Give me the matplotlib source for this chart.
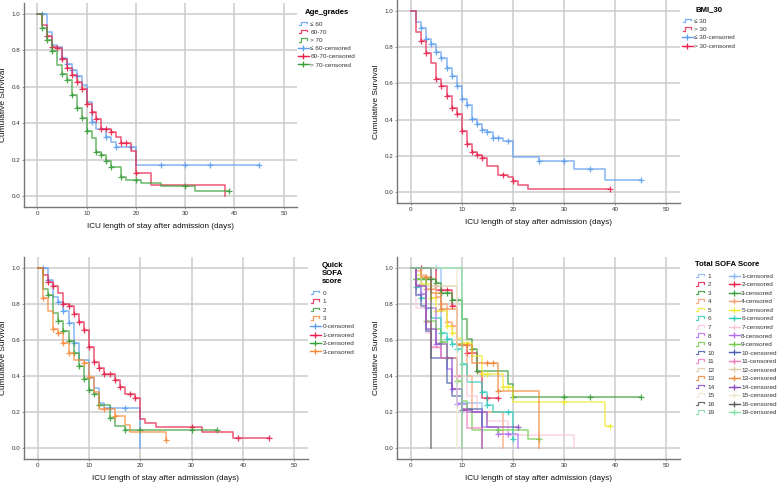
import numpy as np
import matplotlib
matplotlib.use("Agg")
import matplotlib.pyplot as plt
from matplotlib.lines import Line2D
from matplotlib.legend_handler import HandlerBase

plt.rcParams["font.family"] = ["Liberation Sans", "DejaVu Sans"]

# ---------------- data (event times, survival after event, censor times) ----------------
# Age_grades
age1_t = [2, 3, 4, 5, 6, 7, 8, 9, 10, 11, 12, 14, 15, 16, 20]
age1_s = [0.90, 0.83, 0.82, 0.76, 0.727, 0.69, 0.66, 0.61, 0.515, 0.405, 0.37, 0.325, 0.295, 0.27, 0.17]
age1_c = [1, 5, 6, 7, 8, 11, 14, 16, 19, 25, 30, 35, 45]
age2_t = [1, 2, 3, 4, 5, 6, 7, 8, 9, 10, 11, 12, 13, 15, 16, 17, 19, 20, 23, 38]
age2_s = [0.94, 0.88, 0.82, 0.815, 0.75, 0.705, 0.667, 0.625, 0.59, 0.505, 0.46, 0.425, 0.37, 0.35, 0.325, 0.29, 0.25, 0.125, 0.063, 0.0]
age2_c = [2, 3, 4, 5, 6, 7, 8, 9, 10, 11, 12, 13, 14, 15, 17, 18, 20]
age3_t = [1, 2, 3, 4, 5, 6, 7, 8, 9, 10, 11, 12, 13, 14, 15, 17, 18, 21, 25, 32]
age3_s = [0.92, 0.855, 0.797, 0.72, 0.67, 0.635, 0.556, 0.484, 0.43, 0.36, 0.32, 0.243, 0.225, 0.193, 0.16, 0.106, 0.09, 0.073, 0.057, 0.028]
age3_c = [1, 2, 3, 5, 6, 7, 8, 9, 10, 12, 13, 14, 15, 17, 20, 30, 39]
age_labels = ["\u2264 60", "60-70", "> 70"]

# BMI_30
bmi1_t = [1, 2, 3, 4, 5, 6, 7, 8, 9, 10, 11, 12, 13, 14, 15, 16, 18, 20, 25, 32, 38]
bmi1_s = [0.94, 0.905, 0.845, 0.815, 0.775, 0.74, 0.685, 0.64, 0.585, 0.515, 0.48, 0.405, 0.375, 0.345, 0.33, 0.30, 0.28, 0.195, 0.17, 0.127, 0.065]
bmi1_c = [2, 3, 4, 5, 6, 7, 8, 9, 10, 11, 12, 13, 14, 15, 16, 17, 19, 25, 30, 35, 45]
bmi2_t = [1, 2, 3, 4, 5, 6, 7, 8, 9, 10, 11, 12, 13, 14, 15, 17, 19, 20, 21, 23]
bmi2_s = [0.885, 0.835, 0.765, 0.715, 0.622, 0.585, 0.53, 0.465, 0.43, 0.335, 0.265, 0.223, 0.205, 0.188, 0.145, 0.095, 0.083, 0.06, 0.04, 0.02]
bmi2_c = [2, 3, 5, 6, 7, 8, 9, 10, 11, 12, 13, 14, 18, 20, 39]
bmi_labels = ["\u2264 30", "> 30"]

# Quick SOFA score
qs0_t = [2, 3, 4, 5, 6, 7, 8, 10, 11, 12, 13, 20]
qs0_s = [0.935, 0.84, 0.81, 0.76, 0.695, 0.585, 0.49, 0.39, 0.335, 0.25, 0.222, 0.0]
qs0_c = [1, 2, 4, 5, 6, 7, 14, 17]
qs1_t = [1, 2, 3, 4, 5, 6, 7, 8, 9, 10, 11, 12, 13, 15, 16, 17, 19, 20, 21, 23, 32, 38]
qs1_s = [0.96, 0.92, 0.90, 0.86, 0.80, 0.79, 0.745, 0.70, 0.655, 0.56, 0.48, 0.445, 0.41, 0.38, 0.34, 0.30, 0.28, 0.16, 0.14, 0.117, 0.088, 0.058]
qs1_c = [2, 3, 5, 6, 7, 8, 9, 10, 11, 12, 13, 14, 15, 16, 18, 19, 30, 39, 45]
qs2_t = [1, 2, 3, 4, 5, 6, 7, 8, 9, 10, 11, 12, 14, 15, 17]
qs2_s = [0.88, 0.85, 0.75, 0.705, 0.65, 0.595, 0.525, 0.455, 0.385, 0.32, 0.30, 0.24, 0.17, 0.125, 0.10]
qs2_c = [2, 4, 5, 6, 7, 8, 9, 10, 11, 12, 14, 17, 20, 30, 35]
qs3_t = [1, 2, 3, 4, 5, 6, 7, 9, 10, 11, 12, 15, 17, 18, 25]
qs3_s = [0.83, 0.76, 0.66, 0.64, 0.585, 0.53, 0.49, 0.47, 0.395, 0.31, 0.22, 0.18, 0.13, 0.09, 0.045]
qs3_c = [1, 3, 4, 5, 6, 9, 10, 13, 15, 25]
qs_labels = ["0", "1", "2", "3"]

# Total SOFA score
sofa_labels = ["1", "2", "3", "4", "5", "6", "7", "8", "9", "10", "11", "12", "13", "14", "15", "16", "19"]
s1_t = [6, 9, 14]
s1_s = [0.5, 0.25, 0.0]
s1_c = [5]
s2_t = [5, 8, 9, 11, 13, 14]
s2_s = [0.875, 0.79, 0.57, 0.53, 0.42, 0.28]
s2_c = [2, 6, 7, 8, 11, 15, 17]
s3_t = [1, 5, 6, 8, 10, 11, 12, 13, 19, 20]
s3_s = [0.94, 0.915, 0.86, 0.82, 0.715, 0.605, 0.55, 0.43, 0.355, 0.285]
s3_c = [1, 2, 3, 4, 5, 6, 7, 8, 9, 12, 13, 20, 30, 35, 45]
s4_t = [1, 2, 3, 5, 6, 7, 8, 9, 11, 12, 18]
s4_s = [0.98, 0.96, 0.88, 0.84, 0.80, 0.70, 0.68, 0.57, 0.40, 0.20, 0.0]
s4_c = [3, 4, 5, 6, 7, 8]
s5_t = [1, 2, 4, 5, 7, 8, 9, 10, 12, 14, 18, 20, 38]
s5_s = [0.96, 0.91, 0.83, 0.76, 0.68, 0.64, 0.61, 0.585, 0.51, 0.41, 0.34, 0.255, 0.125]
s5_c = [2, 4, 5, 7, 8, 10, 11, 14, 15, 18, 19, 30, 39]
s6_t = [1, 2, 3, 4, 6, 7, 8, 9, 10, 11, 14, 15, 16, 20]
s6_s = [0.895, 0.83, 0.775, 0.72, 0.64, 0.605, 0.58, 0.55, 0.465, 0.365, 0.31, 0.24, 0.20, 0.05]
s6_c = [1, 2, 3, 6, 7, 8, 9, 10, 14, 15, 19, 20]
s7_t = [1, 3, 4, 6, 9, 11, 13, 15, 19, 32]
s7_s = [0.78, 0.64, 0.555, 0.50, 0.40, 0.29, 0.20, 0.15, 0.075, 0.0]
s7_c = []
s8_t = [1, 2, 3, 5, 6, 7, 8, 9, 11, 14, 17, 21]
s8_s = [0.905, 0.855, 0.78, 0.575, 0.50, 0.44, 0.33, 0.245, 0.20, 0.12, 0.08, 0.0]
s8_c = [2, 5, 8, 9, 17, 19]
s9_t = [1, 3, 5, 6, 7, 9, 10, 11, 12, 23]
s9_s = [0.94, 0.705, 0.66, 0.59, 0.50, 0.37, 0.26, 0.22, 0.10, 0.05]
s9_c = [1, 3, 6, 7, 9, 17, 25]
s10_t = [1, 2, 3, 4, 7, 8, 10, 14]
s10_s = [0.85, 0.79, 0.65, 0.50, 0.36, 0.29, 0.22, 0.0]
s10_c = []
s11_t = [1, 3, 4, 6, 9, 10, 11, 14]
s11_s = [0.90, 0.70, 0.56, 0.50, 0.40, 0.22, 0.11, 0.0]
s11_c = [9]
s12_t = [2, 9, 10]
s12_s = [0.90, 0.60, 0.0]
s12_c = [5]
s13_t = [2, 4, 6, 9, 10, 12, 17, 25]
s13_s = [0.95, 0.86, 0.77, 0.58, 0.57, 0.475, 0.315, 0.0]
s13_c = [3, 6, 10, 11, 15, 16, 17]
s14_t = [1, 3, 5, 7, 8, 10, 12, 15]
s14_s = [0.90, 0.66, 0.58, 0.50, 0.33, 0.21, 0.20, 0.12]
s14_c = [10, 21]
s15_t = [9]
s15_s = [0.0]
s15_c = []
s16_t = [4]
s16_s = [0.0]
s16_c = []
s19_t = [10]
s19_s = [0.0]
s19_c = []

BLUE, RED, GREEN, ORANGE = "#5f9ff0", "#e8224c", "#3a9e3a", "#f98a3a"
sofa_colors = ["#8ab8f2", "#e8224c", "#3a9e3a", "#f7a070", "#f0ea30", "#30cdbd",
               "#f8c8dc", "#b36ef0", "#74cc52", "#4d5fb0", "#f07cb8", "#dccca6",
               "#ee8a3c", "#8c4cc0", "#efe6cf", "#5a5a5a", "#86e0a6"]


class StepHandler(HandlerBase):
    def create_artists(self, legend, orig_handle, xdescent, ydescent, width, height, fontsize, trans):
        xs = np.array([0.05, 0.3, 0.3, 0.85, 0.85]) * width - xdescent
        ys = np.array([0.1, 0.1, 0.9, 0.9, 0.55]) * height - ydescent
        ln = Line2D(xs, ys, color=orig_handle.get_color(), lw=0.9, alpha=0.85)
        ln.set_transform(trans)
        return [ln]


def km(ax, times, surv, cens, color):
    end = max([times[-1]] + list(cens))
    xs = np.concatenate([[0], times, [end]])
    ys = np.concatenate([[1.0], surv, [surv[-1]]])
    ax.step(xs, ys, where="post", color=color, lw=1.2, alpha=0.7)
    if len(cens):
        idx = np.searchsorted(xs[:-1], cens, side="right") - 1
        ax.plot(cens, ys[idx], "+", color=color, ms=4.5, mew=0.9, alpha=0.9)


def style(ax):
    ax.set_xlim(-2.7, 52.7)
    ax.set_ylim(-0.06, 1.06)
    ax.set_xticks(range(0, 51, 10))
    ax.set_yticks(np.arange(0, 1.01, 0.2))
    ax.yaxis.set_major_formatter("{x:.1f}")
    ax.grid(True, color="#cccccc", lw=1.1)
    ax.set_axisbelow(True)
    for s in ["top", "right"]:
        ax.spines[s].set_visible(False)
    for s in ["left", "bottom"]:
        ax.spines[s].set_color("#777777")
        ax.spines[s].set_linewidth(1.0)
    ax.tick_params(labelsize=4.5, length=1.5, width=0.6, color="#888888", labelcolor="#333333", pad=1.2)
    ax.set_xlabel("ICU length of stay after admission (days)", fontsize=5.9,
                  color="#111111", labelpad=5.5)
    ax.set_ylabel("Cumulative Survival", fontsize=6.0, color="#111111", labelpad=3)


def legend(ax, fig, title, labels, colors, x, y, spacing, ncol=1, align="center"):
    steps = [Line2D([], [], color=c, lw=1) for c in colors]
    cens = [Line2D([], [], color=c, lw=1, marker="+", ms=5, mew=0.9) for c in colors]
    hmap = {h: StepHandler() for h in steps}
    leg = ax.legend(steps + cens, labels + [l + "-censored" for l in labels],
                    handler_map=hmap, loc="upper left", ncol=ncol,
                    bbox_to_anchor=(x / 780, 1 - y / 484), bbox_transform=fig.transFigure,
                    frameon=False, fontsize=4.6, title=title,
                    title_fontproperties={"weight": "bold", "size": 5.6},
                    handlelength=1.7, handletextpad=0.25, labelspacing=spacing,
                    borderpad=0, borderaxespad=0, columnspacing=2.2)
    leg.get_title().set_multialignment("center")
    leg._legend_box.sep = 3.8
    leg._legend_box.align = align
    for t in leg.get_texts():
        t.set_color("#333333")
    return leg


fig = plt.figure(figsize=(7.8, 4.84), dpi=100)

ax1 = fig.add_axes([24 / 780, 1 - 207 / 484, 273 / 780, 204 / 484])
km(ax1, age1_t, age1_s, age1_c, BLUE)
km(ax1, age2_t, age2_s, age2_c, RED)
km(ax1, age3_t, age3_s, age3_c, GREEN)
style(ax1)
legend(ax1, fig, "Age_grades", age_labels, [BLUE, RED, GREEN], 298, 9, 0.42)

ax2 = fig.add_axes([397 / 780, 1 - 203 / 484, 283 / 780, 203 / 484])
km(ax2, bmi1_t, bmi1_s, bmi1_c, BLUE)
km(ax2, bmi2_t, bmi2_s, bmi2_c, RED)
style(ax2)
legend(ax2, fig, "BMI_30", bmi_labels, [BLUE, RED], 682, 6, 0.45)

ax3 = fig.add_axes([24 / 780, 1 - 459 / 484, 284 / 780, 202 / 484])
km(ax3, qs0_t, qs0_s, qs0_c, BLUE)
km(ax3, qs1_t, qs1_s, qs1_c, RED)
km(ax3, qs2_t, qs2_s, qs2_c, GREEN)
km(ax3, qs3_t, qs3_s, qs3_c, ORANGE)
style(ax3)
legend(ax3, fig, "Quick\nSOFA\nscore", qs_labels, [BLUE, RED, GREEN, ORANGE], 310, 262, 0.46)

ax4 = fig.add_axes([397 / 780, 1 - 459 / 484, 283 / 780, 202 / 484])
sofa_data = [(s1_t, s1_s, s1_c), (s2_t, s2_s, s2_c), (s3_t, s3_s, s3_c), (s4_t, s4_s, s4_c),
             (s5_t, s5_s, s5_c), (s6_t, s6_s, s6_c), (s7_t, s7_s, s7_c), (s8_t, s8_s, s8_c),
             (s9_t, s9_s, s9_c), (s10_t, s10_s, s10_c), (s11_t, s11_s, s11_c),
             (s12_t, s12_s, s12_c), (s13_t, s13_s, s13_c), (s14_t, s14_s, s14_c),
             (s15_t, s15_s, s15_c), (s16_t, s16_s, s16_c), (s19_t, s19_s, s19_c)]
for (t, s, c), col in zip(sofa_data, sofa_colors):
    km(ax4, t, s, c, col)
style(ax4)
legend(ax4, fig, "Total SOFA Score", sofa_labels, sofa_colors, 695, 261, 0.48, ncol=2, align="left")

fig.savefig("out.png", dpi=100)
